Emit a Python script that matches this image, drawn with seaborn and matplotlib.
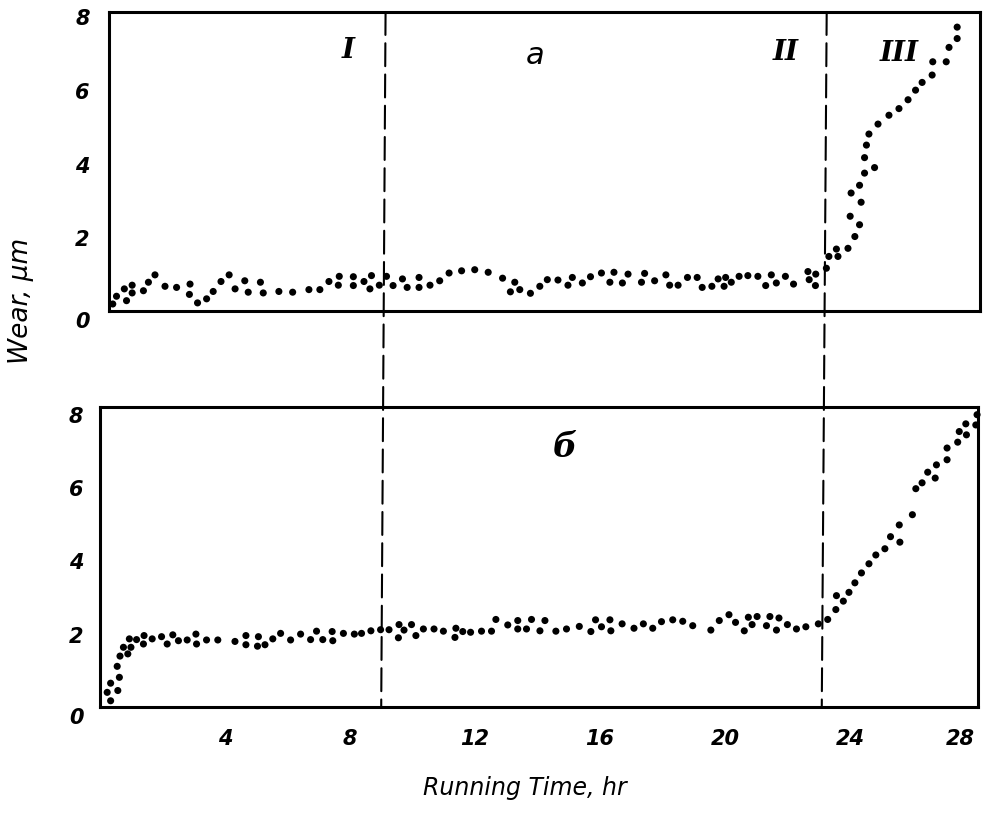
import matplotlib
matplotlib.use("Agg")
import matplotlib.pyplot as plt
import seaborn as sns
import pandas as pd
from matplotlib.patches import ConnectionPatch

# 数据：上图 (a)
top_x = [0.28, 0.40, 0.65, 0.72, 0.90, 0.90, 1.26, 1.42, 1.63, 1.95, 2.32, 2.73, 2.75, 2.99,
         3.28, 3.49, 3.74, 4.00, 4.19, 4.50, 4.61, 5.00, 5.09, 5.59, 6.03, 6.55, 6.90, 7.19,
         7.49, 7.52, 7.97, 7.97, 8.31, 8.50, 8.55, 8.80, 9.03, 9.24, 9.54, 9.69, 10.07, 10.07,
         10.42, 10.73, 11.03, 11.43, 11.85, 12.28, 12.74, 12.99, 13.13, 13.29, 13.63, 13.93,
         14.17, 14.51, 14.83, 14.97, 15.29, 15.55, 15.90, 16.17, 16.30, 16.57, 16.75, 17.18,
         17.28, 17.60, 17.96, 18.08, 18.35, 18.65, 18.96, 19.12, 19.43, 19.63, 19.82, 19.87,
         20.05, 20.30, 20.58, 20.90, 21.15, 21.33, 21.49, 21.78, 22.04, 22.50, 22.54, 22.74,
         22.75, 23.09, 23.17, 23.41, 23.46, 23.78, 23.85, 23.88, 24.00, 24.15, 24.15, 24.20,
         24.31, 24.31, 24.37, 24.45, 24.63, 24.74, 25.09, 25.41, 25.70, 25.94, 26.15, 26.47,
         26.49, 26.92, 27.01, 27.27, 27.27]
top_y = [0.19, 0.40, 0.60, 0.28, 0.70, 0.49, 0.55, 0.78, 0.98, 0.67, 0.64, 0.45, 0.73, 0.22,
         0.33, 0.53, 0.80, 0.98, 0.60, 0.82, 0.51, 0.78, 0.49, 0.53, 0.51, 0.58, 0.58, 0.80,
         0.70, 0.94, 0.93, 0.69, 0.80, 0.60, 0.96, 0.70, 0.94, 0.69, 0.87, 0.64, 0.91, 0.64,
         0.70, 0.82, 1.03, 1.09, 1.12, 1.05, 0.89, 0.52, 0.78, 0.58, 0.48, 0.67,
         0.85, 0.84, 0.70, 0.91, 0.76, 0.93, 1.03, 0.78, 1.05, 0.76, 1.00, 0.78,
         1.02, 0.82, 0.98, 0.70, 0.70, 0.91, 0.91, 0.64, 0.67, 0.87, 0.67, 0.91,
         0.78, 0.94, 0.96, 0.94, 0.69, 0.98, 0.76, 0.94, 0.73, 1.07, 0.85, 0.69,
         1.00, 1.16, 1.48, 1.68, 1.48, 1.70, 2.57, 3.20, 2.02, 2.34, 3.41, 2.95,
         3.74, 4.16, 4.50, 4.80, 3.89, 5.07, 5.31, 5.49, 5.73, 5.99, 6.20, 6.40,
         6.76, 6.76, 7.15, 7.39, 7.70]

# 数据：下图 (б)
bot_x = [0.23, 0.34, 0.34, 0.57, 0.62, 0.55, 0.64, 0.75, 0.89, 0.94, 0.99, 1.17, 1.39, 1.41,
         1.67, 1.97, 2.15, 2.33, 2.51, 2.79, 3.07, 3.09, 3.41, 3.77, 4.32, 4.67, 4.67, 5.04,
         5.07, 5.28, 5.53, 5.78, 6.10, 6.42, 6.74, 6.93, 7.13, 7.43, 7.45, 7.79, 8.14, 8.37,
         8.67, 8.98, 9.25, 9.55, 9.57, 9.73, 9.97, 10.11, 10.35, 10.69, 10.99, 11.36, 11.39,
         11.61, 11.86, 12.21, 12.53, 12.67, 13.05, 13.37, 13.37, 13.65, 13.81, 14.08, 14.24,
         14.59, 14.93, 15.34, 15.71, 15.86, 16.05, 16.32, 16.35, 16.71, 17.09, 17.39, 17.69,
         17.97, 18.33, 18.65, 18.97, 19.55, 19.82, 20.13, 20.34, 20.62, 20.75, 20.87, 21.03,
         21.33, 21.44, 21.65, 21.73, 22.00, 22.29, 22.59, 22.99, 23.29, 23.55, 23.57, 23.79,
         23.97, 24.16, 24.37, 24.61, 24.83, 25.12, 25.30, 25.58, 25.60, 26.00, 26.11, 26.31,
         26.49, 26.73, 26.77, 27.11, 27.11, 27.45, 27.50, 27.71, 27.73, 28.03, 28.07]
bot_y = [0.40, 0.17, 0.65, 0.45, 0.81, 1.11, 1.39, 1.63, 1.45, 1.86, 1.63, 1.84, 1.72, 1.95,
         1.86, 1.92, 1.72, 1.97, 1.81, 1.83, 1.99, 1.72, 1.83, 1.83, 1.79, 1.95, 1.70, 1.66,
         1.92, 1.70, 1.86, 2.01, 1.83, 1.99, 1.84, 2.07, 1.84, 2.06, 1.81, 2.01, 1.99, 2.01,
         2.08, 2.11, 2.11, 1.89, 2.25, 2.10, 2.25, 1.95, 2.13, 2.13, 2.07, 1.90, 2.15,
         2.06, 2.04, 2.07, 2.07, 2.39, 2.24, 2.36, 2.13, 2.13, 2.39, 2.08, 2.36,
         2.07, 2.13, 2.20, 2.06, 2.38, 2.19, 2.38, 2.08, 2.27, 2.15, 2.27, 2.15,
         2.33, 2.38, 2.34, 2.22, 2.10, 2.36, 2.52, 2.31, 2.08, 2.45, 2.25, 2.47,
         2.22, 2.47, 2.10, 2.43, 2.25, 2.13, 2.19, 2.27, 2.39, 2.66, 3.04, 2.89,
         3.13, 3.39, 3.66, 3.91, 4.15, 4.32, 4.65, 4.97, 4.50, 5.25, 5.96, 6.12,
         6.41, 6.25, 6.61, 6.75, 7.07, 7.23, 7.52, 7.73, 7.43, 7.70, 7.98]

x_ticks = [4, 8, 12, 16, 20, 24, 28]
y_ticks = [0, 2, 4, 6, 8]
stage_bounds = [9.0, 23.1]
stage_labels = ["I", "II", "III"]

sns.set_style("white")
plt.rcParams['font.family'] = ['DejaVu Sans']
plt.rcParams['text.color'] = 'black'
plt.rcParams['xtick.color'] = 'black'
plt.rcParams['ytick.color'] = 'black'

df_top = pd.DataFrame({"t": top_x, "wear": top_y})
df_bot = pd.DataFrame({"t": bot_x, "wear": bot_y})

fig = plt.figure(figsize=(9.87, 8.2), dpi=100)
ax1 = fig.add_axes([109 / 987, 1 - 312 / 820, 871 / 987, 299 / 820])
ax2 = fig.add_axes([100 / 987, 1 - 708 / 820, 878 / 987, 300 / 820])

sns.scatterplot(data=df_top, x="t", y="wear", ax=ax1, color="black", s=26,
                edgecolor="none", clip_on=False)
sns.scatterplot(data=df_bot, x="t", y="wear", ax=ax2, color="black", s=26,
                edgecolor="none", clip_on=False)

ax1.set_xlim(0.16, 28.0)
ax1.set_ylim(0, 8.11)
ax2.set_xlim(0, 28.1)
ax2.set_ylim(0, 8.19)

tick_font = dict(fontsize=15, fontweight="bold", fontstyle="italic", color="black")
for ax, ypad in [(ax1, 14), (ax2, 12)]:
    ax.set_xlabel("")
    ax.set_ylabel("")
    for sp in ax.spines.values():
        sp.set_linewidth(2.2)
        sp.set_color("black")
    ax.set_yticks(y_ticks)
    ax.set_yticklabels([str(v) for v in y_ticks], **tick_font)
    ax.tick_params(axis="y", length=0, pad=ypad)
    ax.tick_params(axis="x", direction="in", length=9.5, width=1.5, pad=15)
    # “0” 标签在原图中略低
    ax.get_yticklabels()[0].set_va("top")

ax1.set_xticks(x_ticks[:-1])
ax1.set_xticklabels([])
ax2.set_xticks(x_ticks)
ax2.set_xticklabels([str(v) for v in x_ticks], **tick_font)
ax2.get_xticklabels()[-1].set_ha("right")

# 阶段分界虚线（贯穿两图）
for xb in stage_bounds:
    con = ConnectionPatch(xyA=(xb, 8.11), coordsA=ax1.transData,
                          xyB=(xb, 0), coordsB=ax2.transData,
                          color="black", lw=1.5, linestyle=(0, (11, 4)))
    fig.add_artist(con)

# 阶段标注
roman = dict(fontsize=20, fontstyle="italic", fontweight="bold", family="DejaVu Serif",
             ha="center", va="center")
ax1.text(7.8, 7.1, stage_labels[0], **roman)
ax1.text(21.8, 7.05, stage_labels[1], **roman)
ax1.text(25.43, 7.02, stage_labels[2], **roman)
ax1.text(13.77, 6.95, "а", fontsize=22, fontstyle="italic",
         ha="center", va="center")
ax2.text(14.88, 7.1, "б", fontsize=24, fontstyle="italic", fontweight="bold",
         family="DejaVu Serif", ha="center", va="center")

fig.text(21 / 987, 1 - 301 / 820, "Wear, μm", rotation=90, fontsize=19,
         fontstyle="italic", ha="center", va="center")
fig.text(525 / 987, 1 - 788 / 820, "Running Time, hr", fontsize=17,
         fontstyle="italic", ha="center", va="center")

fig.savefig("out.png", dpi=100)
